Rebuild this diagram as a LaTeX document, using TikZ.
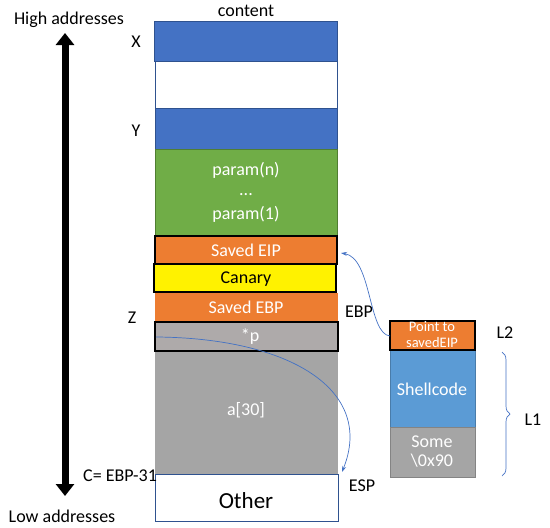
\documentclass[tikz,border=0pt]{standalone}
\usepackage{fontspec}
\setmainfont{Carlito}
\usetikzlibrary{arrows.meta,decorations.pathreplacing}
\definecolor{mblue}{HTML}{4472C4}
\definecolor{dblue}{HTML}{2F528F}
\definecolor{mgreen}{HTML}{70AD47}
\definecolor{dgreen}{HTML}{507E32}
\definecolor{morange}{HTML}{ED7D31}
\definecolor{mgray}{HTML}{A5A5A5}
\definecolor{pgray}{HTML}{AEAAAA}
\definecolor{lblue}{HTML}{5B9BD5}
\definecolor{cblue}{HTML}{4472C4}
\begin{document}
\begin{tikzpicture}[x=1pt,y=-1pt,
  every node/.style={font=\fontsize{18}{20}\selectfont, inner sep=0pt},
  blk/.style={draw=dblue, line width=0.8pt},
  bblk/.style={draw=black, line width=1.8pt},
  wt/.style={text=white},
  lbl/.style={text=black},
  conn/.style={draw=cblue, line width=0.7pt, -{Stealth[length=6pt,width=4pt]}}]
\useasboundingbox (0,0) rectangle (550,528);
% main column
\draw[blk, fill=mblue] (154,21) rectangle (337,61);
\draw[blk, fill=white] (155,61) rectangle (337,108);
\draw[blk, fill=mblue] (155,108) rectangle (337,149);
\draw[draw=dgreen, line width=0.8pt, fill=mgreen] (155,149) rectangle (337,235);
\node[wt] (pn) at (246,170) {param(n)};
\node[wt] (pd) at (246,195) {...};
\node[wt] (p1) at (246,214) {param(1)};
\draw[bblk, fill=morange] (155,236) rectangle (337,264);
\node[wt] (seip) at (246,250) {Saved EIP};
\draw[bblk, fill=yellow] (154,264) rectangle (336,292);
\node[lbl] (can) at (246,279) {Canary};
\draw[draw=morange, line width=0.8pt, fill=morange] (155,293) rectangle (337,321);
\node[wt] (sebp) at (246,307) {Saved EBP};
\draw[draw=mgray, line width=0.8pt, fill=mgray] (155,351) rectangle (337,474);
\draw[bblk, fill=pgray] (155,322) rectangle (338,351);
\node[wt] (pp) at (250,337) {*p};
\node[wt] (a30) at (246,410) {a[30]};
\draw[blk, fill=white] (155,474) rectangle (338,521);
\node[lbl, font=\fontsize{23}{25}\selectfont] (oth) at (246,501) {Other};
\node (content) at (246,11) {content};
% right column
\draw[draw=lblue!80!black, line width=0.6pt, fill=lblue] (390,350) rectangle (475,427);
\node[wt] (shell) at (432,389) {Shellcode};
\draw[draw=mgray!80!black, line width=0.6pt, fill=mgray] (390,427) rectangle (475,477);
\node[wt, align=center] (some) at (432,452) {Some\\[-1pt]\textbackslash 0x90};
\draw[bblk, fill=morange] (390,321) rectangle (475,350);
\node[wt, align=center, font=\fontsize{14.5}{16}\selectfont] (pts) at (432,335) {Point to\\savedEIP};
% labels
\node (high) at (69,20) {High addresses};
\node (low) at (62,516) {Low addresses};
\node (X) at (136,42) {X};
\node (Y) at (136,131) {Y};
\node (Z) at (132,318) {Z};
\node[anchor=west] (C) at (83,476) {C= EBP-31};
\node (EBP) at (359,312) {EBP};
\node (ESP) at (362,486) {ESP};
\node (L2) at (505,333) {L2};
\node (L1) at (533,420) {L1};
% big arrow
\coordinate (atop) at (65,33);
\coordinate (abot) at (65,496);
\draw[line width=7pt, {Triangle[length=12pt,width=18pt]}-{Triangle[length=12pt,width=18pt]}] (atop) -- (abot);
% brace
\coordinate (bt) at (502,352);
\coordinate (bb) at (502,476);
\draw[draw=cblue, line width=0.7pt, decorate, decoration={brace, amplitude=8pt, mirror}] (bb) -- (bt);
% connectors
\coordinate (s1) at (390,336);
\coordinate (e1) at (341,253);
\draw[conn] (s1) .. controls (368,334) and (372,258) .. (e1);
\coordinate (s2) at (156,337);
\coordinate (e2) at (342,472);
\draw[conn] (s2) .. controls (290,338) and (375,390) .. (e2);
\end{tikzpicture}
\end{document}
